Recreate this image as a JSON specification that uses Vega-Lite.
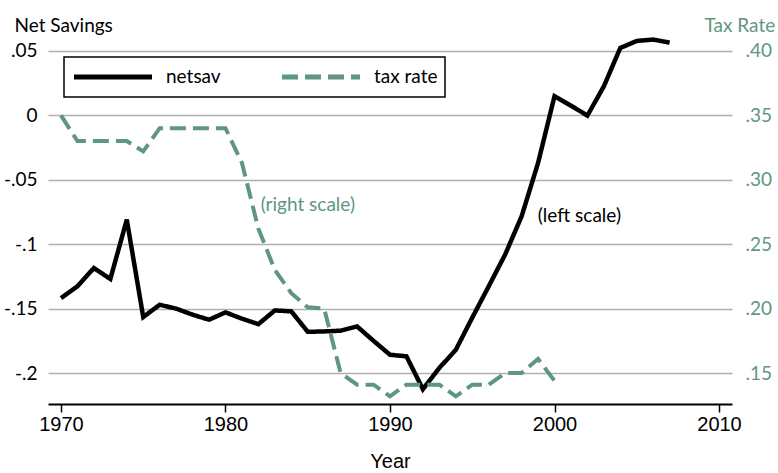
{
  "$schema": "https://vega.github.io/schema/vega-lite/v6.json",
  "width": 684,
  "height": 366,
  "autosize": {"type": "none"},
  "padding": {"left": 48, "top": 38, "right": 46, "bottom": 69},
  "background": "white",
  "config": {"view": {"stroke": null}},
  "data": {"values": [
    {"year": 1970, "series": "netsav", "value": -0.1418},
    {"year": 1971, "series": "netsav", "value": -0.1327},
    {"year": 1972, "series": "netsav", "value": -0.1185},
    {"year": 1973, "series": "netsav", "value": -0.127},
    {"year": 1974, "series": "netsav", "value": -0.081},
    {"year": 1975, "series": "netsav", "value": -0.1565},
    {"year": 1976, "series": "netsav", "value": -0.147},
    {"year": 1977, "series": "netsav", "value": -0.150},
    {"year": 1978, "series": "netsav", "value": -0.1547},
    {"year": 1979, "series": "netsav", "value": -0.1586},
    {"year": 1980, "series": "netsav", "value": -0.1529},
    {"year": 1981, "series": "netsav", "value": -0.1578},
    {"year": 1982, "series": "netsav", "value": -0.162},
    {"year": 1983, "series": "netsav", "value": -0.1514},
    {"year": 1984, "series": "netsav", "value": -0.1521},
    {"year": 1985, "series": "netsav", "value": -0.168},
    {"year": 1986, "series": "netsav", "value": -0.1677},
    {"year": 1987, "series": "netsav", "value": -0.1671},
    {"year": 1988, "series": "netsav", "value": -0.1638},
    {"year": 1989, "series": "netsav", "value": -0.175},
    {"year": 1990, "series": "netsav", "value": -0.1858},
    {"year": 1991, "series": "netsav", "value": -0.187},
    {"year": 1992, "series": "netsav", "value": -0.2125},
    {"year": 1993, "series": "netsav", "value": -0.196},
    {"year": 1994, "series": "netsav", "value": -0.182},
    {"year": 1995, "series": "netsav", "value": -0.157},
    {"year": 1996, "series": "netsav", "value": -0.1327},
    {"year": 1997, "series": "netsav", "value": -0.108},
    {"year": 1998, "series": "netsav", "value": -0.0784},
    {"year": 1999, "series": "netsav", "value": -0.037},
    {"year": 2000, "series": "netsav", "value": 0.0148},
    {"year": 2001, "series": "netsav", "value": 0.0075},
    {"year": 2002, "series": "netsav", "value": -0.0002},
    {"year": 2003, "series": "netsav", "value": 0.0225},
    {"year": 2004, "series": "netsav", "value": 0.0523},
    {"year": 2005, "series": "netsav", "value": 0.0577},
    {"year": 2006, "series": "netsav", "value": 0.0588},
    {"year": 2007, "series": "netsav", "value": 0.0564},
    {"year": 1970, "series": "tax rate", "value": 0.350},
    {"year": 1971, "series": "tax rate", "value": 0.330},
    {"year": 1972, "series": "tax rate", "value": 0.330},
    {"year": 1973, "series": "tax rate", "value": 0.330},
    {"year": 1974, "series": "tax rate", "value": 0.330},
    {"year": 1975, "series": "tax rate", "value": 0.322},
    {"year": 1976, "series": "tax rate", "value": 0.340},
    {"year": 1977, "series": "tax rate", "value": 0.340},
    {"year": 1978, "series": "tax rate", "value": 0.340},
    {"year": 1979, "series": "tax rate", "value": 0.340},
    {"year": 1980, "series": "tax rate", "value": 0.340},
    {"year": 1981, "series": "tax rate", "value": 0.313},
    {"year": 1982, "series": "tax rate", "value": 0.262},
    {"year": 1983, "series": "tax rate", "value": 0.230},
    {"year": 1984, "series": "tax rate", "value": 0.212},
    {"year": 1985, "series": "tax rate", "value": 0.201},
    {"year": 1986, "series": "tax rate", "value": 0.200},
    {"year": 1987, "series": "tax rate", "value": 0.150},
    {"year": 1988, "series": "tax rate", "value": 0.141},
    {"year": 1989, "series": "tax rate", "value": 0.141},
    {"year": 1990, "series": "tax rate", "value": 0.132},
    {"year": 1991, "series": "tax rate", "value": 0.141},
    {"year": 1992, "series": "tax rate", "value": 0.141},
    {"year": 1993, "series": "tax rate", "value": 0.141},
    {"year": 1994, "series": "tax rate", "value": 0.132},
    {"year": 1995, "series": "tax rate", "value": 0.141},
    {"year": 1996, "series": "tax rate", "value": 0.141},
    {"year": 1997, "series": "tax rate", "value": 0.150},
    {"year": 1998, "series": "tax rate", "value": 0.150},
    {"year": 1999, "series": "tax rate", "value": 0.161},
    {"year": 2000, "series": "tax rate", "value": 0.144}
  ]},
  "layer": [
    {
      "transform": [{"filter": "datum.series == 'netsav'"}],
      "mark": {"type": "line", "strokeWidth": 4.5, "strokeCap": "butt"},
      "encoding": {
        "x": {
          "field": "year", "type": "quantitative",
          "scale": {"domain": [1969.21, 2010.79], "nice": false, "zero": false},
          "axis": {
            "values": [1970, 1980, 1990, 2000, 2010], "format": "d",
            "grid": false, "domain": true, "domainColor": "black", "domainWidth": 2,
            "ticks": true, "tickColor": "black", "tickSize": 8, "tickWidth": 1.5,
            "labelFont": "Liberation Sans", "labelFontSize": 20, "labelColor": "black", "labelPadding": 2,
            "title": "Year", "titleFont": "Liberation Sans", "titleFontSize": 20, "titleFontWeight": "normal",
            "titleColor": "black", "titleBaseline": "alphabetic", "titleY": 63
          }
        },
        "y": {
          "field": "value", "type": "quantitative",
          "scale": {"domain": [-0.224, 0.06], "nice": false, "zero": false},
          "axis": {
            "values": [-0.2, -0.15, -0.1, -0.05, 0, 0.05],
            "labelExpr": "replace('' + datum.value, '0.', '.')",
            "grid": true, "gridColor": "#b0b0b0", "gridWidth": 1.5,
            "domain": false, "ticks": false, "labelPadding": 11,
            "labelFont": "Lato", "labelFontSize": 19, "labelColor": "black",
            "title": "Net Savings", "titleAngle": 0, "titleAlign": "left", "titleBaseline": "alphabetic",
            "titleX": -34, "titleY": -7, "titleFont": "Lato", "titleFontSize": 19,
            "titleFontWeight": "normal", "titleColor": "black"
          }
        },
        "color": {
          "field": "series", "type": "nominal",
          "scale": {"domain": ["netsav", "tax rate"], "range": ["black", "#5f967f"]},
          "legend": {
            "orient": "none", "legendX": 16, "legendY": 19, "direction": "horizontal", "title": null,
            "strokeColor": "black", "fillColor": "white", "padding": 7.5, "clipHeight": 24.4,
            "symbolType": "stroke", "symbolSize": 6084, "symbolStrokeWidth": 5,
            "labelFont": "Lato", "labelFontSize": 19, "labelColor": "black",
            "columnPadding": 58, "labelOffset": 11.5,
            "encode": {"legend": {"update": {"strokeWidth": {"value": 1.5}}}}
          }
        },
        "strokeDash": {
          "field": "series", "type": "nominal",
          "scale": {"domain": ["netsav", "tax rate"], "range": [[1, 0], [16, 7]]},
          "legend": {
            "orient": "none", "legendX": 16, "legendY": 19, "direction": "horizontal", "title": null,
            "strokeColor": "black", "fillColor": "white", "padding": 7.5, "clipHeight": 24.4,
            "symbolType": "stroke", "symbolSize": 6084, "symbolStrokeWidth": 5,
            "labelFont": "Lato", "labelFontSize": 19, "labelColor": "black",
            "columnPadding": 58, "labelOffset": 11.5,
            "encode": {"legend": {"update": {"strokeWidth": {"value": 1.5}}}}
          }
        }
      }
    },
    {
      "transform": [{"filter": "datum.series == 'tax rate'"}],
      "mark": {"type": "line", "strokeWidth": 4, "strokeCap": "butt"},
      "encoding": {
        "x": {"field": "year", "type": "quantitative"},
        "y": {
          "field": "value", "type": "quantitative",
          "scale": {"domain": [0.126, 0.41], "nice": false, "zero": false},
          "axis": {
            "orient": "right",
            "values": [0.15, 0.2, 0.25, 0.3, 0.35, 0.4],
            "labelExpr": "replace(format(datum.value, '.2f'), '0.', '.')",
            "grid": false, "domain": false, "ticks": false, "labelPadding": 13,
            "labelFont": "Lato", "labelFontSize": 19, "labelColor": "#5f967f",
            "title": "Tax Rate", "titleAngle": 0, "titleAlign": "left", "titleBaseline": "alphabetic",
            "titleX": -28, "titleY": -7, "titleFont": "Lato", "titleFontSize": 19,
            "titleFontWeight": "normal", "titleColor": "#5f967f"
          }
        },
        "color": {"field": "series", "type": "nominal"},
        "strokeDash": {"field": "series", "type": "nominal"}
      }
    },
    {
      "data": {"values": [{}]},
      "mark": {"type": "text", "text": "(right scale)", "align": "left", "baseline": "middle", "font": "Lato", "fontSize": 19, "color": "#5f967f"},
      "encoding": {
        "x": {"datum": 1982.14, "type": "quantitative"},
        "y": {"datum": -0.0693, "type": "quantitative", "scale": {"domain": [-0.224, 0.06], "nice": false, "zero": false}, "axis": null}
      }
    },
    {
      "data": {"values": [{}]},
      "mark": {"type": "text", "text": "(left scale)", "align": "left", "baseline": "middle", "font": "Lato", "fontSize": 19, "color": "black"},
      "encoding": {
        "x": {"datum": 1998.98, "type": "quantitative"},
        "y": {"datum": -0.0784, "type": "quantitative", "scale": {"domain": [-0.224, 0.06], "nice": false, "zero": false}, "axis": null}
      }
    }
  ],
  "resolve": {"scale": {"y": "independent"}}
}
